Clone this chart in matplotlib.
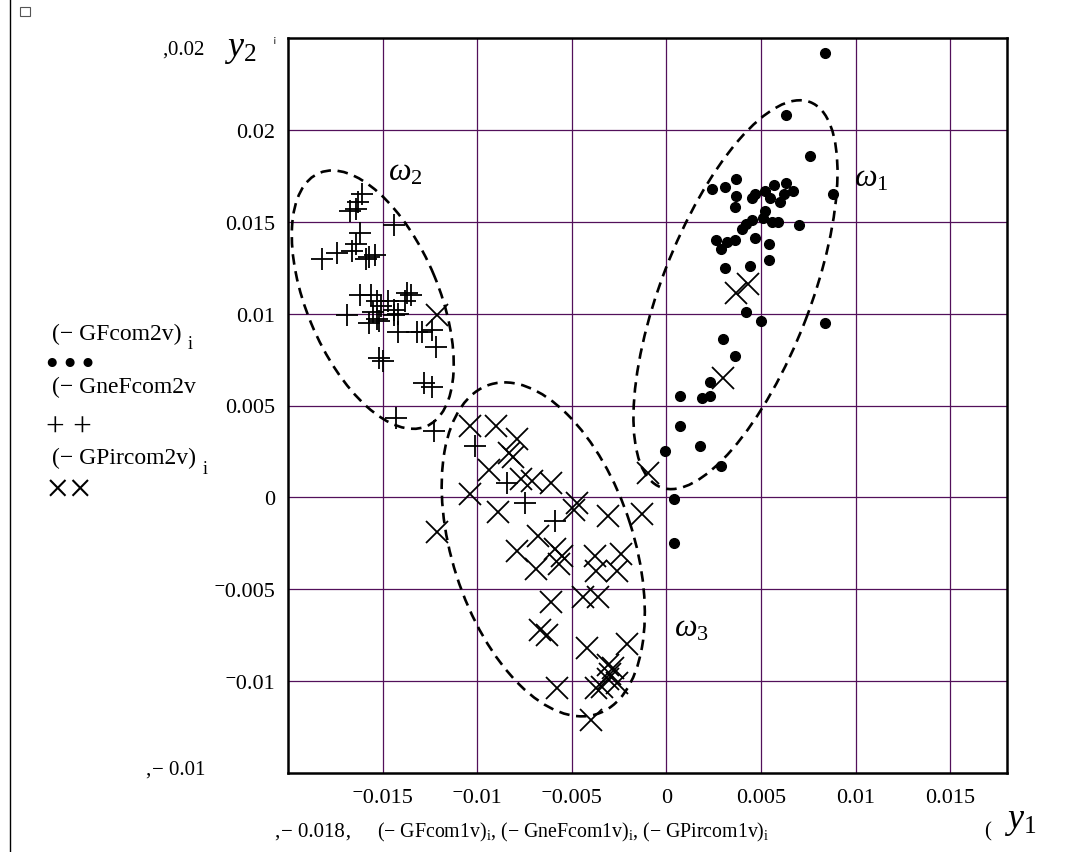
import matplotlib
matplotlib.use("Agg")
import matplotlib.pyplot as plt
from matplotlib.patches import Ellipse

plt.rcParams['font.family'] = ['Liberation Serif', 'DejaVu Serif']
plt.rcParams['mathtext.fontset'] = 'custom'
plt.rcParams['mathtext.rm'] = 'Liberation Serif'
plt.rcParams['mathtext.it'] = 'Liberation Serif:italic'

# class omega1 (dots)
dots_x = [0.0084, 0.0063, 0.0076, 0.0088, 0.0024, 0.0031, 0.0037, 0.0037, 0.0036, 0.0045,
          0.0047, 0.0052, 0.0057, 0.0063, 0.0067, 0.0062, 0.0055, 0.0060, 0.0052, 0.0051,
          0.0056, 0.0059, 0.0070, 0.0045, 0.0042, 0.0040, 0.0036, 0.0032, 0.0026, 0.0029,
          0.0047, 0.0054, 0.0054, 0.0031, 0.0044, 0.0042, 0.0050, 0.0084, 0.0030, 0.0036,
          0.0023, 0.0019, 0.0023, 0.0007, 0.0007, 0.0018, -0.0001, 0.0029, 0.0004, 0.0004]
dots_y = [0.0242, 0.0208, 0.0186, 0.0165, 0.0168, 0.0169, 0.0173, 0.0164, 0.0158, 0.0163,
          0.0165, 0.0167, 0.0170, 0.0171, 0.0167, 0.0165, 0.0163, 0.0161, 0.0156, 0.0152,
          0.0150, 0.0150, 0.0148, 0.0151, 0.0149, 0.0146, 0.0140, 0.0139, 0.0140, 0.0135,
          0.0141, 0.0138, 0.0129, 0.0125, 0.0126, 0.0101, 0.0096, 0.0095, 0.0086, 0.0077,
          0.0063, 0.0054, 0.0055, 0.0055, 0.0039, 0.0028, 0.0025, 0.0017, -0.0001, -0.0025]

# class omega2 (plus)
plus_x = [-0.0161, -0.0163, -0.0167, -0.0164, -0.0144, -0.0162, -0.0164, -0.0166, -0.0174, -0.0182,
          -0.0157, -0.0154, -0.0159, -0.0162, -0.0156, -0.0153, -0.0147, -0.0137, -0.0135, -0.0138,
          -0.0151, -0.0144, -0.0155, -0.0142, -0.0169, -0.0153, -0.0157, -0.0152, -0.0144, -0.0142,
          -0.0132, -0.0129, -0.0124, -0.0122, -0.0152, -0.0150, -0.0128, -0.0124, -0.0143, -0.0123,
          -0.0101, -0.0084, -0.0075, -0.0059]
plus_y = [0.0165, 0.0161, 0.0156, 0.0157, 0.0148, 0.0144, 0.0138, 0.0134, 0.0133, 0.0130,
          0.0131, 0.0132, 0.0130, 0.0110, 0.0110, 0.0107, 0.0107, 0.0111, 0.0110, 0.0107,
          0.0104, 0.0102, 0.0101, 0.0100, 0.0099, 0.0097, 0.0095, 0.0096, 0.0099, 0.0090,
          0.0090, 0.0090, 0.0091, 0.0082, 0.0076, 0.0074, 0.0062, 0.0060, 0.0043, 0.0036,
          0.0028, 0.0008, -0.0003, -0.0013]

# class omega3 (crosses)
cross_x = [-0.0104, -0.0090, -0.0079, -0.0083, -0.0081, -0.0094, -0.0077, -0.0071, -0.0061, -0.0104,
           -0.0089, -0.0047, -0.0049, -0.0031, -0.0013, -0.0121, -0.0068, -0.0079, -0.0059, -0.0055,
           -0.0069, -0.0038, -0.0024, -0.0037, -0.0026, -0.0057, -0.0061, -0.0044, -0.0036, -0.0067,
           -0.0063, -0.0042, -0.0021, -0.0031, -0.0028, -0.0030, -0.0031, -0.0034, -0.0037, -0.0058,
           -0.0040, -0.0026, 0.0043, 0.0037, 0.0030, -0.0010, -0.0121]
cross_y = [0.0039, 0.0039, 0.0032, 0.0024, 0.0022, 0.0015, 0.0010, 0.0009, 0.0008, 0.0002,
           -0.0008, -0.0003, -0.0007, -0.0010, -0.0009, -0.0019, -0.0021, -0.0029, -0.0028, -0.0032,
           -0.0039, -0.0032, -0.0031, -0.0040, -0.0040, -0.0036, -0.0057, -0.0054, -0.0054, -0.0072,
           -0.0075, -0.0082, -0.0080, -0.0091, -0.0093, -0.0096, -0.0099, -0.0103, -0.0104, -0.0104,
           -0.0121, -0.0101, 0.0116, 0.0111, 0.0065, 0.0013, 0.0099]

x_ticks = [-0.015, -0.01, -0.005, 0, 0.005, 0.01, 0.015]
x_labels = ['\u207b0.015', '\u207b0.01', '\u207b0.005', '0', '0.005', '0.01', '0.015']
y_ticks = [-0.01, -0.005, 0, 0.005, 0.01, 0.015, 0.02]
y_labels = ['\u207b0.01', '\u207b0.005', '0', '0.005', '0.01', '0.015', '0.02']

# cluster ellipses: center x, center y, width, height, angle
ell_cx = [0.00365, -0.01552, -0.00651]
ell_cy = [0.01103, 0.01076, -0.00283]
ell_w = [0.0224, 0.0149, 0.0188]
ell_h = [0.0079, 0.0070, 0.0096]
ell_ang = [69.5, 112.0, 107.3]

W, H = 1069, 853
fig = plt.figure(figsize=(W / 100, H / 100), dpi=100)
ax = fig.add_axes([288 / W, 1 - 774 / H, 719 / W, 735 / H])


def px(x, y):
    return x / W, 1 - y / H


ax.set_xlim(-0.02, 0.018)
ax.set_ylim(-0.015, 0.025)
ax.set_xticks(x_ticks)
ax.set_xticklabels(x_labels)
ax.set_yticks(y_ticks)
ax.set_yticklabels(y_labels)
ax.tick_params(length=0, labelsize=16)
ax.tick_params(axis='x', pad=11)
ax.tick_params(axis='y', pad=9)
ax.grid(True, color='#52105a', lw=0.9)
ax.set_axisbelow(True)
for s in ax.spines.values():
    s.set_linewidth(1.8)
    s.set_color('black')

ax.plot(dots_x, dots_y, 'o', color='black', ms=7, ls='none')
ax.plot(plus_x, plus_y, '+', color='black', ms=16, mew=1.3, ls='none')
ax.plot(cross_x, cross_y, 'x', color='black', ms=16, mew=1.3, ls='none')

for cx, cy, w, h, a in zip(ell_cx, ell_cy, ell_w, ell_h, ell_ang):
    ax.add_patch(Ellipse((cx, cy), w, h, angle=a, fill=False, ec='black',
                         lw=1.9, ls=(0, (4, 2.5))))

ax.text(0.0108, 0.0174, r'$\omega_1$', fontsize=23, ha='center', va='center')
ax.text(-0.0138, 0.0177, r'$\omega_2$', fontsize=23, ha='center', va='center')
ax.text(0.0013, -0.0071, r'$\omega_3$', fontsize=23, ha='center', va='center')

# axis names and mathcad placeholder texts
fig.text(*px(240, 50), r'$y_2$', fontsize=26, ha='center', va='center')
fig.text(*px(1020, 822), r'$y_1$', fontsize=26, ha='center', va='center')
fig.text(*px(205, 50), '\u201a0.02', fontsize=15, ha='right', va='center')
fig.text(*px(275, 40), '\u00a1', fontsize=8, ha='center', va='center')
fig.text(*px(205, 770), '\u201a\u2212 0.01', fontsize=15, ha='right', va='center')
fig.text(*px(352, 832), '\u201a\u2212 0.018\u201a', fontsize=15, ha='right', va='center')
fig.text(*px(573, 832),
         r'(− GFcom1v)$_\mathrm{i}$, (− GneFcom1v)$_\mathrm{i}$, (− GPircom1v)$_\mathrm{i}$',
         fontsize=14.3, ha='center', va='center')
fig.text(*px(988, 832), '(', fontsize=15, ha='center', va='center')

# legend-like labels on the left
fig.text(*px(52, 334), '(\u2212 GFcom2v)', fontsize=17, ha='left', va='center')
fig.text(*px(190, 345), 'i', fontsize=13, ha='center', va='center')
fig.text(*px(46, 364), '\u25cf \u25cf \u25cf', fontsize=15, ha='left', va='center')
fig.text(*px(52, 387), '(\u2212 GneFcom2v', fontsize=17, ha='left', va='center')
fig.text(*px(46, 428), '+ +', fontsize=24, ha='left', va='center')
fig.text(*px(52, 458), '(\u2212 GPircom2v)', fontsize=17, ha='left', va='center')
fig.text(*px(205, 470), 'i', fontsize=13, ha='center', va='center')
fig.text(*px(46, 492), '\u00d7\u00d7', fontsize=30, ha='left', va='center')

fig.add_artist(plt.Line2D([10 / W, 10 / W], [0, 1], color='black', lw=1))
fig.add_artist(plt.Rectangle((20 / W, 1 - 17 / H), 10 / W, 9 / H, fill=False,
                             ec='#555555', lw=0.8))

fig.savefig('out.png', dpi=100)
